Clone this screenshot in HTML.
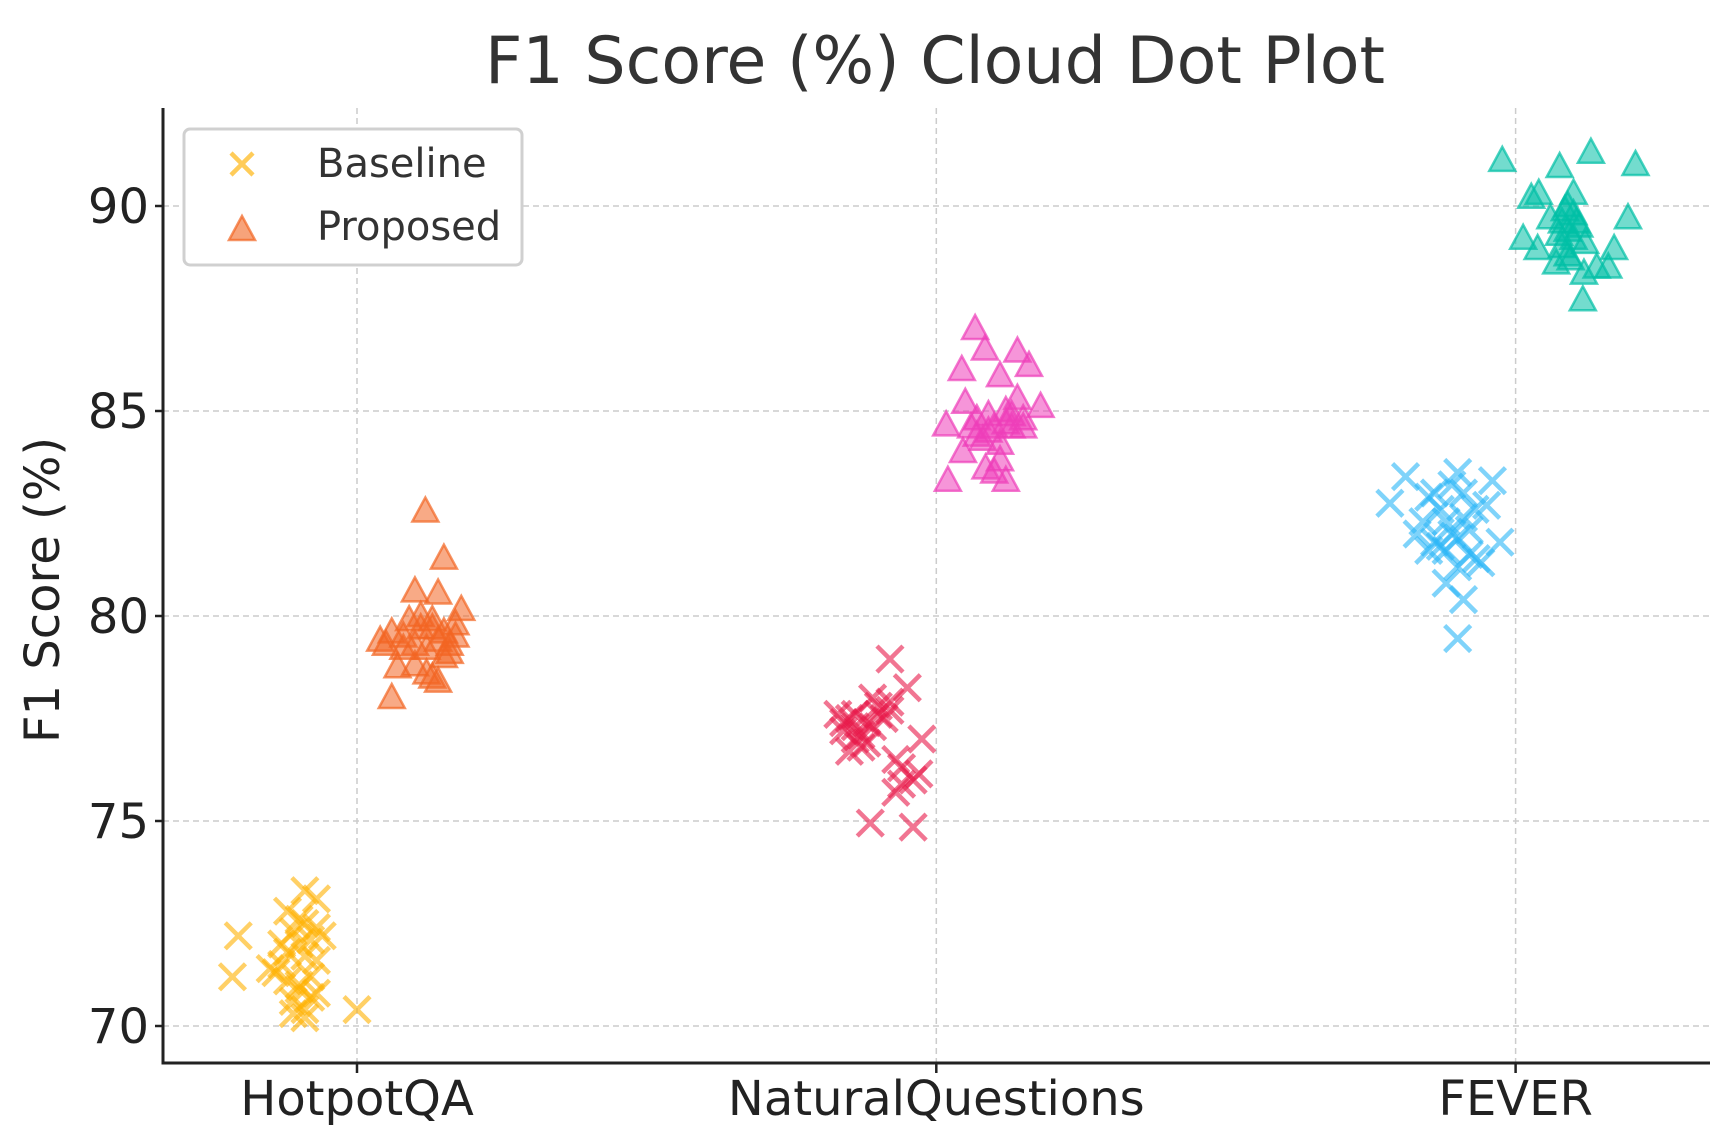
<!DOCTYPE html>
<html><head><meta charset="utf-8"><style>
html,body{margin:0;padding:0;background:#fff;}
svg{display:block;font-family:"DejaVu Sans","Liberation Sans",sans-serif;}
</style></head><body>
<svg id="chart" width="1723" height="1141" viewBox="0 0 1723 1141" xmlns="http://www.w3.org/2000/svg">
<text x="935" y="83" text-anchor="middle" font-size="65" fill="#333">F1 Score (%) Cloud Dot Plot</text>
<g id="grid"></g>
<g id="marks"></g>
<g id="axes"></g>
<text transform="translate(59,590) rotate(-90)" text-anchor="middle" font-size="48" fill="#222">F1 Score (%)</text>
<g>
<rect x="184" y="129" width="338" height="136" rx="6" fill="#fff" stroke="#d0d0d0" stroke-width="3"/>
<g>
<path d="M231,153 L253,175 M253,153 L231,175" stroke="#FFB000" stroke-opacity="0.65" stroke-width="4.5"/>
<text x="317" y="177" font-size="40" fill="#333">Baseline</text>
</g>
<g>
<polygon points="242,216 229,240 255,240" fill="#F26522" fill-opacity="0.6" stroke="#F26522" stroke-opacity="0.7" stroke-width="2.5"/>
<text x="317" y="240" font-size="40" fill="#333">Proposed</text>
</g>
</g>
</svg>
<script>
const categories = ["HotpotQA","NaturalQuestions","FEVER"];
const yTicks = [70,75,80,85,90];
const hotBaseOff = [-0.205,-0.215,0.0,-0.12,-0.11,-0.13,-0.14,-0.10,-0.11,-0.15,-0.09,-0.07,-0.09,-0.08,-0.07,-0.10,-0.12,-0.09,-0.08,-0.07,-0.11,-0.09,-0.10,-0.08,-0.12,-0.06,-0.10,-0.13,-0.09,-0.07];
const hotBaseVal = [72.2,71.2,70.4,72.8,72.3,71.5,71.3,71.0,70.6,71.4,73.3,73.1,72.5,72.1,72.4,72.0,71.8,71.7,71.2,71.6,70.3,70.4,70.9,70.7,71.1,72.2,72.6,72.0,70.2,70.8];
const hotPropOff = [0.118,0.15,0.10,0.14,0.18,0.06,0.07,0.04,0.12,0.14,0.06,0.08,0.09,0.10,0.11,0.13,0.15,0.16,0.17,0.16,0.12,0.13,0.10,0.14,0.05,0.17,0.08,0.11,0.15,0.13];
const hotPropVal = [82.55,81.4,80.6,80.55,80.15,78.0,78.75,79.4,78.6,78.4,79.6,79.5,79.9,79.3,80.0,79.7,79.6,79.3,79.8,79.1,79.2,79.9,78.8,79.4,79.3,79.5,79.2,79.7,79.0,78.5];
const nqBaseOff = [-0.08,-0.114,-0.04,-0.025,-0.03,-0.07,-0.05,-0.08,-0.11,-0.15,-0.16,-0.14,-0.13,-0.15,-0.12,-0.14,-0.10,-0.11,-0.09,-0.08,-0.06,-0.07,-0.06,-0.13,-0.16,-0.10,-0.12,-0.04,-0.14,-0.17];
const nqBaseVal = [78.95,74.95,74.85,77.0,76.15,75.7,78.25,77.9,77.3,77.5,77.2,77.0,76.8,76.7,77.4,77.6,77.6,78.0,77.5,77.7,76.3,76.5,75.9,77.1,77.4,77.8,76.9,76.0,77.3,77.6];
const nqPropOff = [0.067,0.044,0.084,0.14,0.16,0.11,0.18,0.02,0.12,0.017,0.046,0.10,0.085,0.11,0.05,0.07,0.09,0.12,0.13,0.14,0.15,0.08,0.10,0.06,0.11,0.13,0.09,0.07,0.12,0.15];
const nqPropVal = [87.0,86.0,86.5,86.45,86.1,85.85,85.1,83.3,83.3,84.65,84.0,83.5,83.6,83.8,85.2,84.8,84.5,84.7,84.9,85.3,84.8,84.3,84.6,84.6,84.2,84.6,84.9,84.4,85.0,84.6];
const fevBaseOff = [-0.10,-0.09,-0.12,-0.217,-0.19,-0.10,-0.04,-0.027,-0.068,-0.11,-0.15,-0.13,-0.16,-0.17,-0.14,-0.12,-0.10,-0.08,-0.07,-0.05,-0.09,-0.11,-0.13,-0.08,-0.06,-0.10,-0.12,-0.15,-0.09,-0.14];
const fevBaseVal = [79.45,80.4,80.8,82.75,83.4,83.5,83.3,81.8,81.4,83.2,82.9,82.6,82.3,82.0,81.8,81.6,81.9,82.1,82.6,82.7,82.4,82.0,81.7,81.5,81.3,81.2,82.3,81.6,83.0,83.0];
const fevPropOff = [-0.023,0.076,0.13,0.207,0.027,0.04,0.194,0.013,0.038,0.17,0.116,0.16,0.118,0.10,0.09,0.08,0.09,0.10,0.08,0.07,0.09,0.10,0.11,0.085,0.075,0.095,0.12,0.14,0.06,0.105];
const fevPropVal = [91.1,90.95,91.3,91.0,90.2,90.3,89.7,89.2,88.95,88.95,87.7,88.5,88.35,90.3,90.0,89.6,89.4,89.2,89.0,88.6,88.8,89.8,89.5,89.9,89.3,88.7,89.1,88.5,89.7,89.6];

const NS="http://www.w3.org/2000/svg";
const L=163,R=1710,T=108,B=1063;
const xScale = v => 357 + v*579.3;
const yScale = v => 1026 - (v-70)*41.0;
function mk(tag, attrs, parent){const e=document.createElementNS(NS,tag);for(const k in attrs)e.setAttribute(k,attrs[k]);parent.appendChild(e);return e;}
const grid=document.getElementById('grid'), axes=document.getElementById('axes'), marks=document.getElementById('marks');
yTicks.forEach(t=>{
  const y=yScale(t);
  const g=mk('line',{x1:L,x2:R,y1:y,y2:y,stroke:'#ccc','stroke-width':1.5,'stroke-dasharray':'6,4'},grid);
  
  
  const tk=mk('line',{x1:L-8,x2:L,y1:y,y2:y,stroke:'#222','stroke-width':2.5},axes);
  
  
  const tx=mk('text',{x:L-14,y:y+17,'text-anchor':'end','font-size':48,fill:'#222'},axes);
  tx.textContent=t;
  
  
});
categories.forEach((c,i)=>{
  const x=xScale(i);
  const g=mk('line',{x1:x,x2:x,y1:T,y2:B,stroke:'#ccc','stroke-width':1.5,'stroke-dasharray':'6,4'},grid);
  
  
  const tk=mk('line',{x1:x,x2:x,y1:B,y2:B+10,stroke:'#222','stroke-width':2.5},axes);
  
  
  const tx=mk('text',{x:x,y:B+52,'text-anchor':'middle','font-size':48,fill:'#222'},axes);
  tx.textContent=c;
  
  
});
const la=mk('line',{x1:L,x2:L,y1:T,y2:B+1.5,stroke:'#222','stroke-width':3},axes);


const ba=mk('line',{x1:L-1.5,x2:R,y1:B,y2:B,stroke:'#222','stroke-width':3},axes);



function drawX(cat,offs,vals,color,name){
  offs.forEach((o,i)=>{
    const x=xScale(cat+o), y=yScale(vals[i]), s=13;
    const p=mk('path',{d:`M${x-s},${y-s} L${x+s},${y+s} M${x+s},${y-s} L${x-s},${y+s}`,stroke:color,'stroke-opacity':0.6,'stroke-width':4.5,fill:'none'},marks);
    
    
  });
}
function drawTri(cat,offs,vals,color,name){
  offs.forEach((o,i)=>{
    const x=xScale(cat+o), y=yScale(vals[i]);
    const p=mk('polygon',{points:`${x},${y-14} ${x-13},${y+10} ${x+13},${y+10}`,fill:color,'fill-opacity':0.55,stroke:color,'stroke-opacity':0.7,'stroke-width':2.5},marks);
    
    
  });
}
drawX(0,hotBaseOff,hotBaseVal,'#FFB000','hotpotqa-baseline-point');
drawTri(0,hotPropOff,hotPropVal,'#F26522','hotpotqa-proposed-point');
drawX(1,nqBaseOff,nqBaseVal,'#E8194A','naturalquestions-baseline-point');
drawTri(1,nqPropOff,nqPropVal,'#EE3EB9','naturalquestions-proposed-point');
drawX(2,fevBaseOff,fevBaseVal,'#29B6F6','fever-baseline-point');
drawTri(2,fevPropOff,fevPropVal,'#00BFA5','fever-proposed-point');
</script>
</body></html>
